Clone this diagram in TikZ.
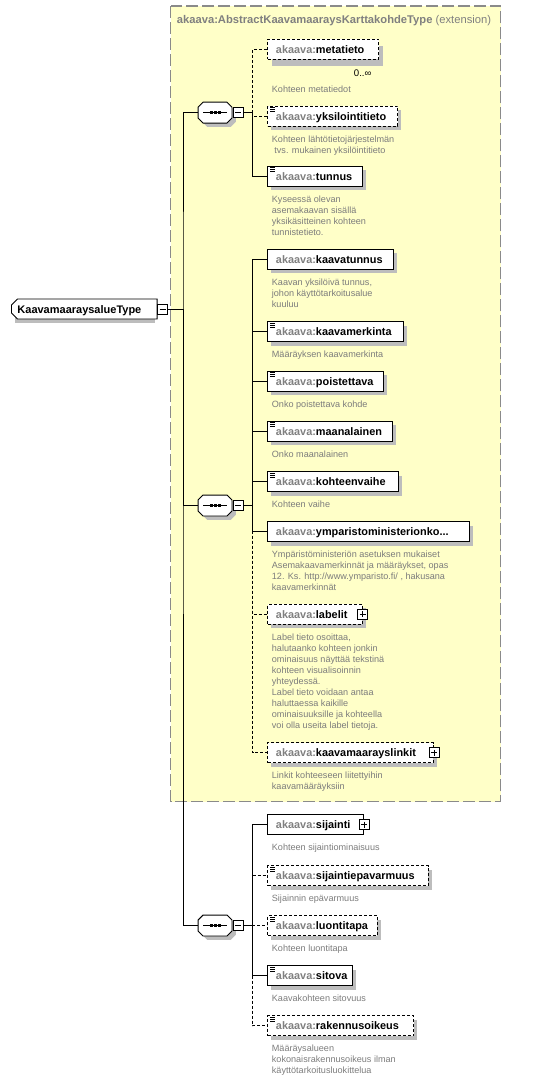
\documentclass[tikz,border=0pt]{standalone}
\usepackage{fontspec}
\setmainfont{Liberation Sans}
\usetikzlibrary{positioning,shapes.misc}
\definecolor{ExtFill}{HTML}{FFFFC8}
\definecolor{ExtLine}{HTML}{8A8A8A}
\definecolor{Prefix}{HTML}{808080}
\definecolor{Note}{HTML}{7C7C7C}
\definecolor{ShadowGrey}{HTML}{BDBDBD}
\newcommand{\ak}[1]{{\color{Prefix}akaava:}#1}
\tikzset{
  elem/.style={draw=black, fill=white, line width=0.9pt, anchor=west, minimum height=20pt,
    inner xsep=8.2pt, inner ysep=0pt, text height=8pt, text depth=0pt,
    align=left, text width=#1, font=\fontsize{10.9}{13}\selectfont\bfseries},
  opt/.style={dash pattern=on 3pt off 2pt},
  simple/.style={path picture={
    \draw[solid, draw=black, line width=0.7pt]
      ([shift={(2.5pt,-1.2pt)}]path picture bounding box.north west) -- ++(5pt,0pt)
      ([shift={(2.5pt,-3.2pt)}]path picture bounding box.north west) -- ++(5pt,0pt)
      ([shift={(2.5pt,-5.2pt)}]path picture bounding box.north west) -- ++(5pt,0pt);}},
  plusbox/.style={draw=black, fill=white, line width=0.8pt, minimum size=10pt, inner sep=0pt,
    path picture={\draw[solid, draw=black, line width=0.8pt]
      ([xshift=2pt]path picture bounding box.west) -- ([xshift=-2pt]path picture bounding box.east)
      ([yshift=-2pt]path picture bounding box.north) -- ([yshift=2pt]path picture bounding box.south);}},
  minusbox/.style={draw=black, fill=white, line width=0.8pt, minimum size=10pt, inner sep=0pt,
    path picture={\draw[draw=black, line width=0.8pt]
      ([xshift=2pt]path picture bounding box.west) -- ([xshift=-2pt]path picture bounding box.east);}},
  seqbox/.style={rectangle, minimum width=33.5pt, minimum height=20.5pt, inner sep=0pt},
  seqline/.style={draw=black, fill=white, line width=0.9pt},
  rootbox/.style={chamfered rectangle, chamfered rectangle corners={north west,south west},
    chamfered rectangle xsep=3pt, chamfered rectangle ysep=3pt, draw=black, fill=white,
    line width=0.9pt, minimum height=20pt, inner xsep=3pt, inner ysep=0pt,
    align=left, text width=133.7pt,
    text height=8pt, text depth=0pt, font=\fontsize{11}{13}\selectfont\bfseries},
  note/.style={align=left, inner sep=0pt, anchor=north west, text=Note,
    font=\fontsize{9.1}{11}\selectfont},
  count/.style={inner sep=0pt, font=\fontsize{9.6}{11}\selectfont},
  extbox/.style={fill=ExtFill, draw=ExtLine, line width=1.3pt, dash pattern=on 12pt off 4pt},
  exthead/.style={inner sep=0pt, text=Prefix, font=\fontsize{11.2}{13}\selectfont},
  conn/.style={draw=black, line width=0.9pt}
}
\begin{document}
\begin{tikzpicture}[x=1pt, y=-1pt, node distance=7.8pt and 4.4pt]
  \useasboundingbox (0,0) rectangle (543,1080);
  % extension frame
  \draw[extbox] (170.7,6) rectangle (500.7,801.7);

  % drop shadows (element centre / box width)
  \foreach \y/\w in {116/130, 176/94.4, 259.3/125.4, 331.7/136, 381.3/116, 431.3/124.4,
      481.7/130.4, 531.5/201.7, 614.3/94.4, 752.7/165.7, 875.7/160.4, 925.7/109.4,
      975.7/84.4, 1025.7/146}
    \fill[ShadowGrey] (271.3,\y-6) rectangle (271.3+\w,\y+14);
  \fill[ShadowGrey] (271.8,45.8) rectangle (382.8,65.8);
  \fill[ShadowGrey] (15,303) rectangle (154.7,323);
  \foreach \y in {112.6,505.5,925.5}
    \fill[ShadowGrey] (207.25,\y-6.25) -- (230.75,\y-6.25) -- (235.75,\y-1.25) -- (235.75,\y+9.25)
      -- (230.75,\y+14.25) -- (207.25,\y+14.25) -- (202.25,\y+9.25) -- (202.25,\y-1.25) -- cycle;

  \node[exthead, anchor=base west] (exthead) at (176.7,23.5)
    {\textbf{akaava:AbstractKaavamaaraysKarttakohdeType} (extension)};

  % root type
  \node[rootbox, anchor=west] (root) at (11,309) {KaavamaaraysalueType};
  \node[minusbox, right=-0.5pt of root] (rootmin) {};

  % sequences
  \node[seqbox] (seq1) at (215,112.6) {};
  \node[minusbox, right=1pt of seq1] (seq1min) {};
  \node[seqbox] (seq2) at (215,505.5) {};
  \node[minusbox, right=1pt of seq2] (seq2min) {};
  \node[seqbox] (seq3) at (215,925.5) {};
  \node[minusbox, right=1pt of seq3] (seq3min) {};
  \foreach \s in {seq1,seq2,seq3} {
    \draw[seqline] ([xshift=5pt]\s.north west) -- ([xshift=-5pt]\s.north east)
      -- ([yshift=-5pt]\s.north east) -- ([yshift=5pt]\s.south east)
      -- ([xshift=-5pt]\s.south east) -- ([xshift=5pt]\s.south west)
      -- ([yshift=5pt]\s.south west) -- ([yshift=-5pt]\s.north west) -- cycle;
    \draw[line width=0.9pt] ([xshift=5pt]\s.west) -- ([xshift=-5pt]\s.east);
    \fill[black] ([shift={(-5.5pt,-1.5pt)}]\s.center) rectangle ++(3pt,3pt);
    \fill[black] ([shift={(-1.5pt,-1.5pt)}]\s.center) rectangle ++(3pt,3pt);
    \fill[black] ([shift={(2.5pt,-1.5pt)}]\s.center) rectangle ++(3pt,3pt);
  }

  % first sequence (inherited)
  \node[elem=94.6pt, opt] (metatieto) at (267.3,49.3) {\ak{metatieto}};
  \node[count, below left=10pt and 7.5pt of metatieto.south east] (metacount) {0..∞};
  \node[note, below right=24.5pt and 4.4pt of metatieto.south west] (metanote) {\strut Kohteen metatiedot};
  \node[elem=113.6pt, opt, simple] (yksilointitieto) at (267.3,116) {\ak{yksilointitieto}};
  \node[note, below right=of yksilointitieto.south west] (yksilnote)
    {\strut Kohteen lähtötietojärjestelmän\\\hspace*{2.5pt}tvs. mukainen yksilöintitieto};
  \node[elem=78pt, simple] (tunnus) at (267.3,176) {\ak{tunnus}};
  \node[note, below right=of tunnus.south west] (tunnusnote)
    {\strut Kyseessä olevan\\asemakaavan sisällä\\yksikäsitteinen kohteen\\tunnistetieto.};

  % second sequence
  \node[elem=109pt] (kaavatunnus) at (267.3,259.3) {\ak{kaavatunnus}};
  \node[note, below right=of kaavatunnus.south west] (kaavatunnusnote)
    {\strut Kaavan yksilöivä tunnus,\\johon käyttötarkoitusalue\\kuuluu};
  \node[elem=119.6pt, simple] (kaavamerkinta) at (267.3,331.7) {\ak{kaavamerkinta}};
  \node[note, below right=of kaavamerkinta.south west] (kaavamerkintanote) {\strut Määräyksen kaavamerkinta};
  \node[elem=99.6pt, simple] (poistettava) at (267.3,381.3) {\ak{poistettava}};
  \node[note, below right=of poistettava.south west] (poistettavanote) {\strut Onko poistettava kohde};
  \node[elem=108pt, simple] (maanalainen) at (267.3,431.3) {\ak{maanalainen}};
  \node[note, below right=of maanalainen.south west] (maanalainennote) {\strut Onko maanalainen};
  \node[elem=114pt, simple] (kohteenvaihe) at (267.3,481.7) {\ak{kohteenvaihe}};
  \node[note, below right=of kohteenvaihe.south west] (kohteenvaihenote) {\strut Kohteen vaihe};
  \node[elem=185.3pt] (ymparisto) at (267.3,531.5) {\ak{ymparistoministerionko...}};
  \node[note, below right=of ymparisto.south west] (ymparistonote)
    {\strut Ympäristöministeriön asetuksen mukaiset\\Asemakaavamerkinnät ja määräykset, opas\\12. Ks. http://www.ymparisto.fi/ , hakusana\\kaavamerkinnät};
  \node[elem=78pt, opt] (labelit) at (267.3,614.3) {\ak{labelit}};
  \node[plusbox] (labelitplus) at (labelit.east) {};
  \node[note, below right=of labelit.south west] (labelitnote)
    {\strut Label tieto osoittaa,\\halutaanko kohteen jonkin\\ominaisuus näyttää tekstinä\\kohteen visualisoinnin\\yhteydessä.\\Label tieto voidaan antaa\\haluttaessa kaikille\\ominaisuuksille ja kohteella\\voi olla useita label tietoja.};
  \node[elem=149.3pt, opt] (linkit) at (267.3,752.7) {\ak{kaavamaarayslinkit}};
  \node[plusbox] (linkitplus) at (linkit.east) {};
  \node[note, below right=of linkit.south west] (linkitnote)
    {\strut Linkit kohteeseen liitettyihin\\kaavamääräyksiin};

  % third sequence
  \node[elem=79.6pt] (sijainti) at (267.3,824.7) {\ak{sijainti}};
  \node[plusbox] (sijaintiplus) at (sijainti.east) {};
  \node[note, below right=of sijainti.south west] (sijaintinote) {\strut Kohteen sijaintiominaisuus};
  \node[elem=144pt, opt, simple] (epavarmuus) at (267.3,875.7) {\ak{sijaintiepavarmuus}};
  \node[note, below right=of epavarmuus.south west] (epavarmuusnote) {\strut Sijainnin epävarmuus};
  \node[elem=93pt, opt, simple] (luontitapa) at (267.3,925.7) {\ak{luontitapa}};
  \node[note, below right=of luontitapa.south west] (luontitapanote) {\strut Kohteen luontitapa};
  \node[elem=68pt, simple] (sitova) at (267.3,975.7) {\ak{sitova}};
  \node[note, below right=of sitova.south west] (sitovanote) {\strut Kaavakohteen sitovuus};
  \node[elem=129.6pt, opt, simple] (rakennusoikeus) at (267.3,1025.7) {\ak{rakennusoikeus}};
  \node[note, below right=of rakennusoikeus.south west] (rakennusoikeusnote)
    {\strut Määräysalueen\\kokonaisrakennusoikeus ilman\\käyttötarkoitusluokittelua};

  % connectors
  \coordinate (j0) at (183,309);
  \draw[conn] (rootmin.east) -- (j0);
  \draw[conn] (seq1.west) -| (j0) |- (seq3.west);
  \draw[conn] (j0) |- (seq2.west);

  \coordinate (b1) at (252.5,112.6);
  \draw[conn] (seq1min.east) -- (b1);
  \draw[conn, opt] (b1) |- (metatieto.west);
  \draw[conn, opt] (b1) |- (yksilointitieto.west);
  \draw[conn] (b1) |- (tunnus.west);

  \coordinate (b2) at (252.5,505.5);
  \draw[conn] (seq2min.east) -- (b2);
  \draw[conn] (b2) |- (kaavatunnus.west);
  \draw[conn] (b2) |- (kaavamerkinta.west);
  \draw[conn] (b2) |- (poistettava.west);
  \draw[conn] (b2) |- (maanalainen.west);
  \draw[conn] (b2) |- (kohteenvaihe.west);
  \draw[conn, opt] (b2) |- (labelit.west);
  \draw[conn, opt] (b2) |- (linkit.west);
  \draw[conn] (b2) |- (ymparisto.west);

  \coordinate (b3) at (252.5,925.5);
  \draw[conn] (seq3min.east) -- (b3);
  \draw[conn, opt] (b3) |- (epavarmuus.west);
  \draw[conn, opt] (b3) |- (luontitapa.west);
  \draw[conn, opt] (b3) |- (rakennusoikeus.west);
  \draw[conn] (b3) |- (sijainti.west);
  \draw[conn] (b3) |- (sitova.west);
\end{tikzpicture}
\end{document}
